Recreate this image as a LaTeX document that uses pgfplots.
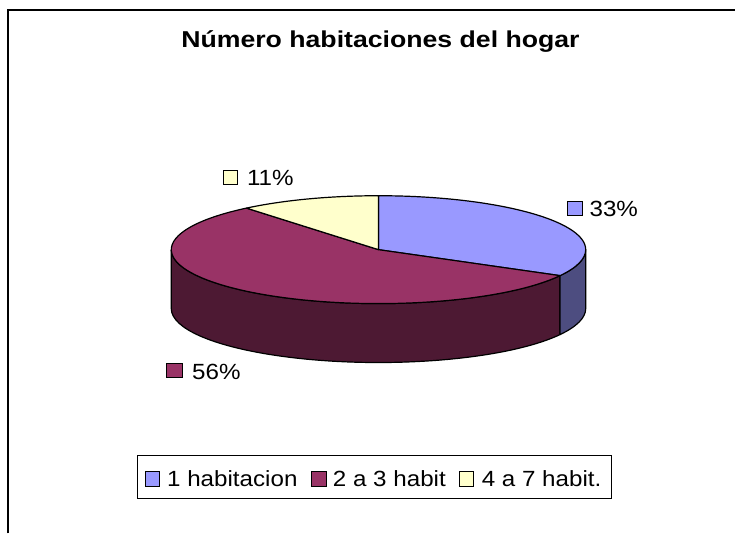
\documentclass[border=0pt]{standalone}
\usepackage{pgfplots}
\pgfplotsset{compat=1.18}
\usepackage{pgfplotstable}
\usepackage{fontspec}
\setmainfont{Liberation Sans}
\newfontfamily\lblfont[FakeStretch=1.1]{Liberation Sans}
\newfontfamily\ttlfont[FakeStretch=1.16]{Liberation Sans}
\definecolor{topA}{HTML}{9999FF}
\definecolor{sideA}{HTML}{4D4D80}
\definecolor{topB}{HTML}{993366}
\definecolor{sideB}{HTML}{4D1933}
\definecolor{topC}{HTML}{FFFFCC}

\pgfplotstableread[col sep=comma]{
label,value
1 habitacion,33
2 a 3 habit,56
4 a 7 habit.,11
}\piedata

\def\rx{103.75pt}
\def\ry{27pt}
\def\dep{29.5pt}

\begin{document}%
\begin{tikzpicture}
\pgfplotstablegetelem{0}{value}\of\piedata\xdef\vA{\pgfplotsretval}
\pgfplotstablegetelem{1}{value}\of\piedata\xdef\vB{\pgfplotsretval}
\pgfplotstablegetelem{2}{value}\of\piedata\xdef\vC{\pgfplotsretval}
\pgfmathsetmacro\aA{90}\global\let\aA\aA
\pgfmathsetmacro\aB{\aA-3.6*\vA}\global\let\aB\aB
\pgfmathsetmacro\aC{\aB-3.6*\vB}\global\let\aC\aC
\pgfmathsetmacro\aD{\aC-3.6*\vC}\global\let\aD\aD
\begin{axis}[width=368pt,height=267pt,scale only axis,
  xmin=0,xmax=736,ymin=0,ymax=534,hide axis,clip=false]
% bounding box
\path (axis cs:0,0) rectangle (axis cs:736,534);
% outer frame (cropped)
\draw[line width=1pt] (axis cs:8,0) -- (axis cs:8,524) -- (axis cs:736,524);
% title
\node[anchor=base,inner sep=0] at (axis cs:381,486)
  {\ttlfont\bfseries\fontsize{11.5}{13}\selectfont Número habitaciones del hogar};
% pie sides
\filldraw[fill=sideB,draw=black,line width=0.6pt,line join=round]
  (axis cs:379,284) ++(-180:\rx\space and \ry)
  arc[start angle=-180,end angle=\aB,x radius=\rx,y radius=\ry]
  -- ++(0,-\dep)
  arc[start angle=\aB,end angle=-180,x radius=\rx,y radius=\ry] -- cycle;
\filldraw[fill=sideA,draw=black,line width=0.6pt,line join=round]
  (axis cs:379,284) ++(\aB:\rx\space and \ry)
  arc[start angle=\aB,end angle=0,x radius=\rx,y radius=\ry]
  -- ++(0,-\dep)
  arc[start angle=0,end angle=\aB,x radius=\rx,y radius=\ry] -- cycle;
% pie tops
\filldraw[fill=topA,draw=black,line width=0.6pt,line join=round]
  (axis cs:379,284) -- ++(\aA:\rx\space and \ry)
  arc[start angle=\aA,end angle=\aB,x radius=\rx,y radius=\ry] -- cycle;
\filldraw[fill=topB,draw=black,line width=0.6pt,line join=round]
  (axis cs:379,284) -- ++(\aB:\rx\space and \ry)
  arc[start angle=\aB,end angle=\aC,x radius=\rx,y radius=\ry] -- cycle;
\filldraw[fill=topC,draw=black,line width=0.6pt,line join=round]
  (axis cs:379,284) -- ++(\aC:\rx\space and \ry)
  arc[start angle=\aC,end angle=\aD,x radius=\rx,y radius=\ry] -- cycle;
% data labels
\draw[fill=topA,line width=0.6pt] (axis cs:568,318) rectangle (axis cs:583,332);
\node[anchor=base west,inner sep=0] at (axis cs:590,317)
  {\lblfont\fontsize{11}{13}\selectfont \vA\%};
\draw[fill=topC,line width=0.6pt] (axis cs:224,349) rectangle (axis cs:238,363);
\node[anchor=base west,inner sep=0] at (axis cs:247,348)
  {\lblfont\fontsize{11}{13}\selectfont \vC\%};
\draw[fill=topB,line width=0.6pt] (axis cs:167,156) rectangle (axis cs:183,170);
\node[anchor=base west,inner sep=0] at (axis cs:192,154)
  {\lblfont\fontsize{11}{13}\selectfont \vB\%};
% legend
\draw[line width=0.6pt] (axis cs:138,35) rectangle (axis cs:612,78);
\draw[fill=topA,line width=0.6pt] (axis cs:146,47) rectangle (axis cs:160,62);
\node[anchor=base west,inner sep=0] at (axis cs:167,47)
  {\lblfont\fontsize{11}{13}\selectfont 1 habitacion};
\draw[fill=topB,line width=0.6pt] (axis cs:312,47) rectangle (axis cs:327,62);
\node[anchor=base west,inner sep=0] at (axis cs:333,47)
  {\lblfont\fontsize{11}{13}\selectfont 2 a 3 habit};
\draw[fill=topC,line width=0.6pt] (axis cs:460,47) rectangle (axis cs:474,62);
\node[anchor=base west,inner sep=0] at (axis cs:482,47)
  {\lblfont\fontsize{11}{13}\selectfont 4 a 7 habit.};
\end{axis}
\end{tikzpicture}%
\end{document}
